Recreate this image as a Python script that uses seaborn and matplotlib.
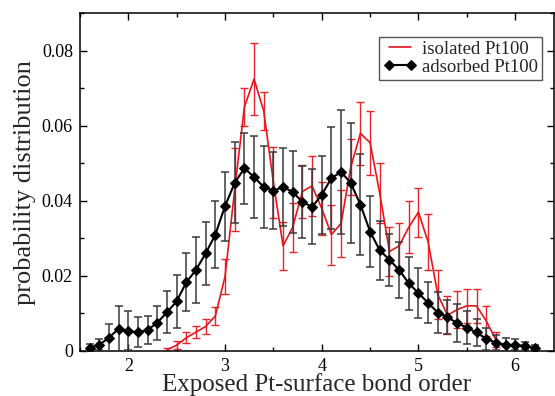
import numpy as np
import pandas as pd
import seaborn as sns
import matplotlib
matplotlib.use("Agg")
import matplotlib.pyplot as plt
from matplotlib.ticker import MultipleLocator, FuncFormatter

# isolated Pt100 (red, no markers)
iso_x = [2.4, 2.5, 2.6, 2.7, 2.8, 2.9,
         3.0, 3.1, 3.2, 3.3, 3.4, 3.5, 3.6, 3.7, 3.8, 3.9,
         4.0, 4.1, 4.2, 4.3, 4.4, 4.5, 4.6, 4.7, 4.8, 4.9,
         5.0, 5.1, 5.2, 5.3, 5.4, 5.5, 5.6, 5.7, 5.8]
iso_p = [0.0003, 0.0015, 0.0035, 0.005, 0.0065, 0.0093,
         0.0198, 0.043, 0.065, 0.0725, 0.064, 0.045, 0.028, 0.033, 0.0425, 0.044,
         0.038, 0.031, 0.034, 0.049, 0.058, 0.0555, 0.042, 0.0265, 0.028, 0.033,
         0.037, 0.029, 0.015, 0.0095, 0.011, 0.012, 0.012, 0.008, 0.003]
iso_err = [0.0005, 0.001, 0.0015, 0.0015, 0.002, 0.0025,
           0.0047, 0.011, 0.005, 0.0095, 0.005, 0.0095, 0.0065, 0.0065, 0.007, 0.008,
           0.007, 0.008, 0.009, 0.0075, 0.0085, 0.0085, 0.008, 0.0065, 0.006, 0.007,
           0.0065, 0.0075, 0.0065, 0.005, 0.005, 0.0045, 0.0045, 0.004, 0.002]

# adsorbed Pt100 (black diamonds)
ads_x = [1.6, 1.7, 1.8, 1.9,
         2.0, 2.1, 2.2, 2.3, 2.4, 2.5, 2.6, 2.7, 2.8, 2.9,
         3.0, 3.1, 3.2, 3.3, 3.4, 3.5, 3.6, 3.7, 3.8, 3.9,
         4.0, 4.1, 4.2, 4.3, 4.4, 4.5, 4.6, 4.7, 4.8, 4.9,
         5.0, 5.1, 5.2, 5.3, 5.4, 5.5, 5.6, 5.7, 5.8, 5.9,
         6.0, 6.1, 6.2]
ads_p = [0.0008, 0.0016, 0.0035, 0.0059,
         0.0053, 0.0049, 0.0056, 0.0075, 0.0103, 0.0132, 0.0183, 0.0216, 0.026, 0.031,
         0.0386, 0.0448, 0.0487, 0.0464, 0.0437, 0.0427, 0.0437, 0.0424, 0.0397, 0.0384,
         0.0416, 0.0461, 0.0477, 0.0448, 0.039, 0.0318, 0.0268, 0.0243, 0.0216, 0.018,
         0.0154, 0.0128, 0.0102, 0.009, 0.0074, 0.0062, 0.0049, 0.0032, 0.0022, 0.0016,
         0.0016, 0.0013, 0.0008]
ads_err = [0.001, 0.0015, 0.0037, 0.006,
           0.0052, 0.004, 0.0038, 0.0045, 0.0056, 0.007, 0.0078, 0.0088, 0.0085, 0.009,
           0.0092, 0.0108, 0.0095, 0.011, 0.011, 0.0103, 0.0105, 0.011, 0.0095, 0.01,
           0.0103, 0.0135, 0.0165, 0.016, 0.0135, 0.0095, 0.0078, 0.007, 0.0075, 0.007,
           0.0067, 0.0055, 0.0055, 0.0045, 0.005, 0.0045, 0.0035, 0.003, 0.002, 0.0018,
           0.0015, 0.001, 0.0008]

x_ticks = [2, 3, 4, 5, 6]
y_ticks = [0, 0.02, 0.04, 0.06, 0.08]

iso = pd.DataFrame({"order": iso_x, "prob": iso_p, "err": iso_err})
ads = pd.DataFrame({"order": ads_x, "prob": ads_p, "err": ads_err})

sns.set_theme(style="ticks")
plt.rcParams["font.family"] = ["Liberation Serif", "DejaVu Serif"]

fig = plt.figure(figsize=(5.55, 3.96), dpi=100)
ax = fig.add_axes([0.144, 0.114, 0.854, 0.852])

ax.errorbar(iso["order"], iso["prob"], yerr=iso["err"], fmt="none",
            ecolor="#e8262a", elinewidth=1.0, capsize=3, capthick=1.0, zorder=2)
sns.lineplot(data=iso, x="order", y="prob", color="#e8141c", linewidth=1.2,
             label="isolated Pt100", ax=ax, zorder=3)
ax.errorbar(ads["order"], ads["prob"], yerr=ads["err"], fmt="none",
            ecolor="#3a3a3a", elinewidth=1.1, capsize=3, capthick=1.1, zorder=4)
sns.lineplot(data=ads, x="order", y="prob", color="black", linewidth=1.5,
             marker="D", markersize=5.5, markeredgecolor="black",
             label="adsorbed Pt100", ax=ax, zorder=5)

ax.set_xlim(1.5, 6.4)
ax.set_ylim(0, 0.09)
ax.set_xticks(x_ticks)
ax.set_yticks(y_ticks)
ax.xaxis.set_minor_locator(MultipleLocator(0.5))
ax.yaxis.set_minor_locator(MultipleLocator(0.01))
ax.yaxis.set_major_formatter(FuncFormatter(lambda v, p: "0" if v == 0 else f"{v:.2f}"))
ax.tick_params(which="both", direction="in", top=True, right=True,
               colors="black", labelsize=13, width=1.0)
ax.tick_params(which="major", length=5, pad=5)
ax.tick_params(which="minor", length=3)
for s in ax.spines.values():
    s.set_linewidth(1.1)
    s.set_color("black")

ax.set_xlabel("Exposed Pt-surface bond order", fontsize=18, labelpad=-1)
ax.set_ylabel("probability distribution", fontsize=19, labelpad=4)

ax.legend(loc="upper right", bbox_to_anchor=(0.975, 0.93), borderaxespad=0,
          fontsize=13.5, numpoints=2, fancybox=False, framealpha=1,
          edgecolor="#555555", borderpad=0.2, labelspacing=0.05,
          handlelength=1.8, handletextpad=0.3)
ax.get_legend().get_frame().set_linewidth(1.0)

fig.savefig("out.png", dpi=100)
